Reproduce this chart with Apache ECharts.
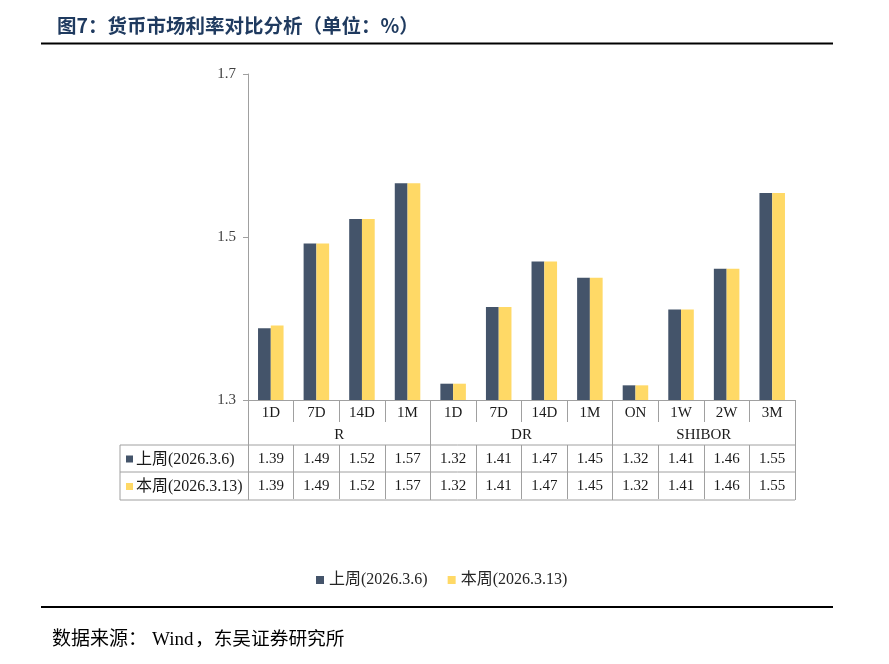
<!DOCTYPE html>
<html>
<head>
<meta charset="utf-8">
<script src="https://cdn.jsdelivr.net/npm/echarts@6/dist/echarts.min.js"></script>
<style>
html,body{margin:0;padding:0;background:#fff;}
#main{width:889px;height:664px;}
</style>
</head>
<body>
<div id="main"></div>
<script>
// ---- data ----
var categories = ['1D','7D','14D','1M','1D','7D','14D','1M','ON','1W','2W','3M'];
var groups = ['R','DR','SHIBOR'];
var seriesNames = ['上周(2026.3.6)','本周(2026.3.13)'];
var prevWeek = [1.388,1.492,1.522,1.566,1.320,1.414,1.470,1.450,1.318,1.411,1.461,1.554];
var thisWeek = [1.3915,1.492,1.522,1.566,1.320,1.414,1.470,1.450,1.318,1.411,1.461,1.554];
var titleText = '图7：货币市场利率对比分析（单位：%）';
var sourceLead = '数据来源：';
var sourceWind = 'Wind';
var sourceOrg = '，东吴证券研究所';

// ---- styles ----
var FONT = '"Liberation Serif","Times New Roman","Noto Sans CJK SC",serif';
var C1 = '#44546A', C2 = '#FFD966', LINE = '#A0A0A0', TXT = '#1a1a1a';
var W = 889, H = 664;
var gL = 248, gR = 795, gT = 74, gB = 400;
var rowH1 = 445, rowH2 = 472, rowH3 = 500, tableL = 120;

var chart = echarts.init(document.getElementById('main'), null, {renderer:'canvas', width:W, height:H});

function hline(y, x1, x2, color, w){
  return {type:'line', shape:{x1:x1,y1:y,x2:x2,y2:y}, style:{stroke:color,lineWidth:w||1}, silent:true};
}
function vline(x, y1, y2, color, w){
  return {type:'line', shape:{x1:x,y1:y1,x2:x,y2:y2}, style:{stroke:color,lineWidth:w||1}, silent:true};
}
function txt(s, x, y, size){
  return {type:'text', x:x, y:y, style:{text:s, font:size+'px '+FONT, fill:'#000', verticalAlign:'middle', align:'left'}, silent:true};
}
function valueAxis(arr, offset){
  return {
    type:'category', data:categories, position:'bottom', gridIndex:0, offset:offset,
    axisLine:{show:false},
    axisTick:{show:true, interval:0, length:27, lineStyle:{color:LINE}},
    axisLabel:{interval:0, margin:7, fontFamily:FONT, fontSize:15, color:TXT,
      formatter:function(v, i){ return arr[i].toFixed(2); }},
    splitLine:{show:false}
  };
}

var graphics = [
  hline(43.5, 41, 833, '#000', 2),
  hline(607, 41, 833, '#000', 2),
  hline(rowH1, tableL, gR, LINE, 1),
  hline(rowH2, tableL, gR, LINE, 1),
  hline(rowH3, tableL, gR, LINE, 1),
  vline(tableL, rowH1, rowH3, LINE, 1),
  {type:'rect', shape:{x:126, y:(rowH1+rowH2)/2-3, width:7, height:7}, style:{fill:C1}, silent:true},
  {type:'text', x:136, y:(rowH1+rowH2)/2+1, style:{text:seriesNames[0], font:'16px '+FONT, fill:TXT, verticalAlign:'middle', align:'left'}, silent:true},
  {type:'rect', shape:{x:126, y:(rowH2+rowH3)/2-3, width:7, height:7}, style:{fill:C2}, silent:true},
  {type:'text', x:136, y:(rowH2+rowH3)/2+1, style:{text:seriesNames[1], font:'16px '+FONT, fill:TXT, verticalAlign:'middle', align:'left'}, silent:true},
  txt(sourceLead, 52, 640, 19),
  txt(sourceWind, 152, 640, 19),
  txt(sourceOrg, 195, 640, 18.7)
];

var option = {
  backgroundColor:'#fff',
  animation:false,
  textStyle:{fontFamily:FONT},
  title:{
    text:titleText, left:52, top:11,
    textStyle:{fontFamily:'"Noto Sans CJK SC",sans-serif', fontSize:19.5, fontWeight:'bold', color:'#1F3A5F'}
  },
  legend:{
    data:seriesNames, top:567, left:311,
    icon:'rect', itemWidth:8, itemHeight:8, itemGap:20,
    textStyle:{fontFamily:FONT, fontSize:16, color:'#262626'}
  },
  grid:{left:gL, right:W-gR, top:gT, bottom:H-gB, containLabel:false},
  xAxis:[
    {
      type:'category', data:categories, position:'bottom', gridIndex:0,
      axisLine:{show:true, lineStyle:{color:LINE}},
      axisTick:{show:true, interval:0, length:22, lineStyle:{color:LINE}},
      axisLabel:{interval:0, margin:6, fontFamily:FONT, fontSize:15, color:TXT},
      splitLine:{show:false}
    },
    {
      type:'category', data:groups, position:'bottom', gridIndex:0, offset:22,
      axisLine:{show:false},
      axisTick:{show:true, interval:0, length:78, lineStyle:{color:LINE}},
      axisLabel:{interval:0, margin:6, fontFamily:FONT, fontSize:15, color:TXT},
      splitLine:{show:false}
    },
    valueAxis(prevWeek, 45),
    valueAxis(thisWeek, 72)
  ],
  yAxis:{
    type:'value', min:1.3, max:1.7, interval:0.2,
    axisLine:{show:true, lineStyle:{color:LINE}},
    axisTick:{show:true, length:5, lineStyle:{color:LINE}},
    axisLabel:{margin:12, fontFamily:FONT, fontSize:15, color:'#404040',
      formatter:function(v){ return (+v).toFixed(1); }},
    splitLine:{show:false}
  },
  series:[
    {name:seriesNames[0], type:'bar', data:prevWeek, xAxisIndex:0, barGap:'0%', barCategoryGap:'44%',
     itemStyle:{color:C1}},
    {name:seriesNames[1], type:'bar', data:thisWeek, xAxisIndex:0, barGap:'0%', barCategoryGap:'44%',
     itemStyle:{color:C2}}
  ],
  graphic:graphics
};
chart.setOption(option);
</script>
</body>
</html>
